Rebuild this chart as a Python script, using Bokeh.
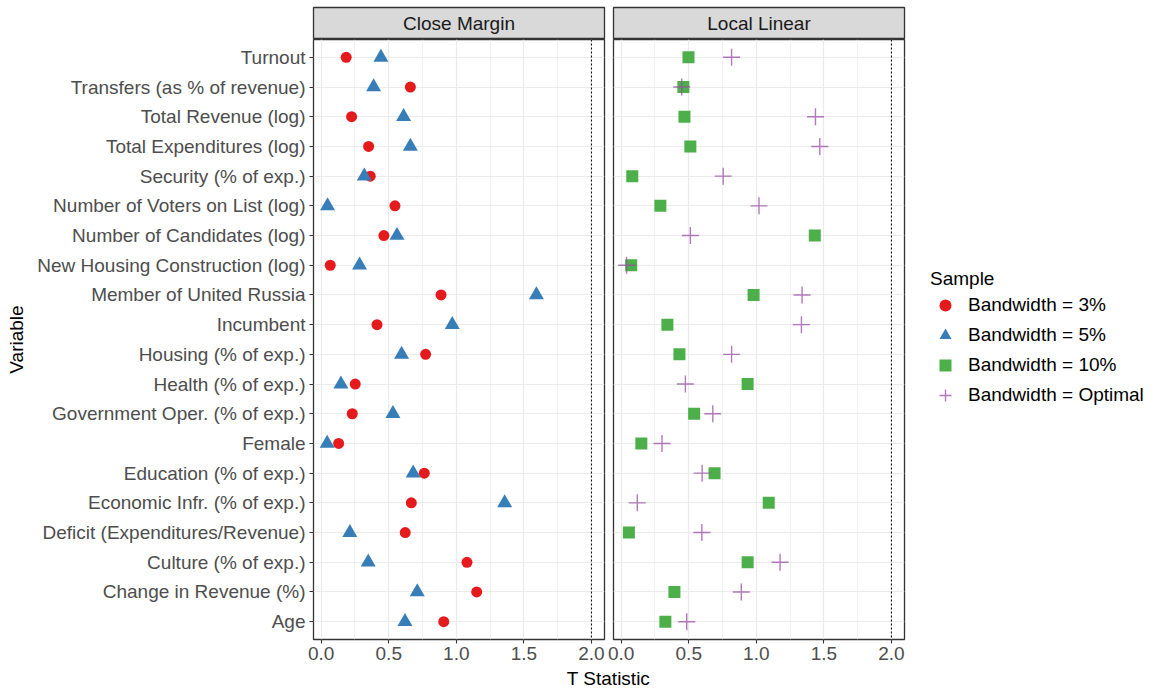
from bokeh.plotting import figure
from bokeh.models import (FactorRange, Range1d, Span, Label, Legend, LegendItem,
                          FixedTicker, PrintfTickFormatter)
from bokeh.layouts import row, column
from bokeh.embed import file_html
from bokeh.resources import INLINE

# ---------------- data ----------------
variables = [
    "Turnout", "Transfers (as % of revenue)", "Total Revenue (log)",
    "Total Expenditures (log)", "Security (% of exp.)",
    "Number of Voters on List (log)", "Number of Candidates (log)",
    "New Housing Construction (log)", "Member of United Russia", "Incumbent",
    "Housing (% of exp.)", "Health (% of exp.)", "Government Oper. (% of exp.)",
    "Female", "Education (% of exp.)", "Economic Infr. (% of exp.)",
    "Deficit (Expenditures/Revenue)", "Culture (% of exp.)",
    "Change in Revenue (%)", "Age",
]
# Close Margin panel
close_bw3 = [0.185, 0.660, 0.225, 0.351, 0.363, 0.546, 0.464, 0.067, 0.887, 0.413,
             0.773, 0.252, 0.230, 0.129, 0.763, 0.667, 0.622, 1.079, 1.151, 0.907]
close_bw5 = [0.442, 0.388, 0.610, 0.660, 0.319, 0.047, 0.561, 0.284, 1.593, 0.970,
             0.595, 0.146, 0.531, 0.044, 0.681, 1.358, 0.212, 0.348, 0.711, 0.620]
# Local Linear panel
local_bw10 = [0.498, 0.460, 0.468, 0.512, 0.082, 0.290, 1.433, 0.074, 0.980, 0.342,
              0.431, 0.936, 0.540, 0.149, 0.691, 1.092, 0.057, 0.936, 0.394, 0.327]
local_opt = [0.817, 0.448, 1.438, 1.470, 0.755, 1.020, 0.512, 0.040, 1.339, 1.334,
             0.817, 0.475, 0.678, 0.302, 0.599, 0.119, 0.597, 1.176, 0.889, 0.485]

x_ticks = [0.0, 0.5, 1.0, 1.5, 2.0]
x_minor = [0.25, 0.75, 1.25, 1.75]
panel_titles = ["Close Margin", "Local Linear"]
legend_title = "Sample"
legend_labels = ["Bandwidth = 3%", "Bandwidth = 5%", "Bandwidth = 10%", "Bandwidth = Optimal"]
threshold = 2.0
x_title = "T Statistic"
y_title = "Variable"

# ---------------- style ----------------
FONT = "Liberation Sans"
FS = "19px"
RED, BLUE, GREEN, PURPLE = "#E41A1C", "#377EB8", "#4DAF4A", "#984EA3"
BORDER = "#333333"
GRID = "#EBEBEB"
X0, X1 = -0.057, 2.097
FRAME_W, FRAME_H = 291, 600
STRIP_TOP, STRIP_H = 7, 32
LEFT = 313
GAP = 7
TOTAL_W = 1154
factors = variables[::-1]

MARKERS = [dict(marker="circle", size=11, fill_color=RED, line_color=None),
           dict(marker="triangle", size=15, fill_color=BLUE, line_color=None),
           dict(marker="square", size=12, fill_color=GREEN, line_color=None),
           dict(marker="cross", size=17, line_color=PURPLE, line_alpha=0.75, line_width=1.4)]


def make_strip(title, left):
    s = figure(frame_width=FRAME_W, frame_height=STRIP_H, x_range=Range1d(0, 1), y_range=Range1d(0, 1),
               x_axis_location=None, y_axis_location=None, toolbar_location=None,
               output_backend="svg", min_border_top=STRIP_TOP, min_border_bottom=0,
               min_border_left=left, min_border_right=2,
               background_fill_color="#D9D9D9", outline_line_color=BORDER,
               outline_line_width=1.3, border_fill_color="white")
    s.grid.visible = False
    s.add_layout(Label(x=0.5, y=0.5, text=title, text_align="center", text_baseline="middle",
                       text_font=FONT, text_font_size=FS, text_color="#1A1A1A"))
    return s


def make_panel(left, show_y):
    p = figure(frame_width=FRAME_W, frame_height=FRAME_H, x_range=Range1d(X0, X1),
               y_range=FactorRange(factors=factors, range_padding=0.1,
                                   range_padding_units="absolute"),
               toolbar_location=None, output_backend="svg",
               min_border_top=0, min_border_bottom=28, min_border_left=left,
               min_border_right=2, outline_line_color=BORDER, outline_line_width=1.3,
               background_fill_color="white", border_fill_color="white")
    p.xaxis.ticker = FixedTicker(ticks=x_ticks, minor_ticks=x_minor)
    p.xaxis.formatter = PrintfTickFormatter(format="%.1f")
    for ax in [p.xaxis[0], p.yaxis[0]]:
        ax.axis_line_color = None
        ax.major_tick_line_color = BORDER
        ax.major_tick_line_width = 1.1
        ax.major_tick_out = 4
        ax.major_tick_in = 0
        ax.minor_tick_line_color = None
        ax.major_label_text_font = FONT
        ax.major_label_text_font_size = FS
        ax.major_label_text_color = "#4D4D4D"
        ax.major_label_standoff = 3
    p.yaxis.major_label_standoff = 4
    if show_y:
        p.yaxis.axis_label = y_title
        p.yaxis.axis_label_text_font = FONT
        p.yaxis.axis_label_text_font_size = FS
        p.yaxis.axis_label_text_font_style = "normal"
        p.yaxis.axis_label_text_color = "black"
        p.yaxis.axis_label_standoff = 7
    else:
        p.yaxis.visible = False
    p.xgrid.grid_line_color = GRID
    p.xgrid.grid_line_width = 1.2
    p.xgrid.minor_grid_line_color = GRID
    p.xgrid.minor_grid_line_width = 0.7
    p.ygrid.grid_line_color = GRID
    p.ygrid.grid_line_width = 1.2
    p.add_layout(Span(location=threshold, dimension="height", line_color="black",
                      line_dash="2 2", line_width=1))
    return p


strip1 = make_strip(panel_titles[0], LEFT)
strip2 = make_strip(panel_titles[1], GAP)
p1 = make_panel(LEFT, True)
p2 = make_panel(GAP, False)

p1.scatter(close_bw3, variables, **MARKERS[0])
p1.scatter(close_bw5, variables, **MARKERS[1])
p2.scatter(local_bw10, variables, **MARKERS[2])
p2.scatter(local_opt, variables, **MARKERS[3])

# ----- legend in its own blank figure (proxy renderers with one NaN point) -----
LEG_W = TOTAL_W - (GAP + FRAME_W + 2) - (LEFT + FRAME_W + 2)
LEG_H = STRIP_TOP + STRIP_H + FRAME_H
leg_fig = figure(width=LEG_W, height=LEG_H, x_range=Range1d(0, 1), y_range=Range1d(0, 1),
                 x_axis_location=None, y_axis_location=None, toolbar_location=None,
                 output_backend="svg", min_border=0, outline_line_color=None)
leg_fig.grid.visible = False
proxies = [leg_fig.scatter(x=[float("nan")], y=[float("nan")], **m) for m in MARKERS]

legend = Legend(items=[LegendItem(label=lab_, renderers=[r])
                       for lab_, r in zip(legend_labels, proxies)],
                location=(24, 229), title=legend_title,
                title_text_font=FONT, title_text_font_size=FS,
                title_text_font_style="normal", title_text_color="black",
                title_standoff=0,
                label_text_font=FONT, label_text_font_size=FS, label_text_color="black",
                glyph_width=30, glyph_height=30, label_height=30, spacing=0,
                label_standoff=8, padding=0, margin=0,
                border_line_color=None, background_fill_alpha=0)
leg_fig.add_layout(legend, "center")

lab = figure(width=TOTAL_W, height=21, x_range=Range1d(0, TOTAL_W), y_range=Range1d(0, 21),
             x_axis_location=None, y_axis_location=None, toolbar_location=None,
             output_backend="svg", min_border=0, outline_line_color=None)
lab.grid.visible = False
lab.add_layout(Label(x=608, y=10.5, text=x_title, text_align="center", text_baseline="middle",
                     text_font=FONT, text_font_size=FS, text_color="black"))

layout = column(row(column(strip1, p1), column(strip2, p2), leg_fig), lab)

open("out.html", "w").write(file_html(layout, INLINE))
